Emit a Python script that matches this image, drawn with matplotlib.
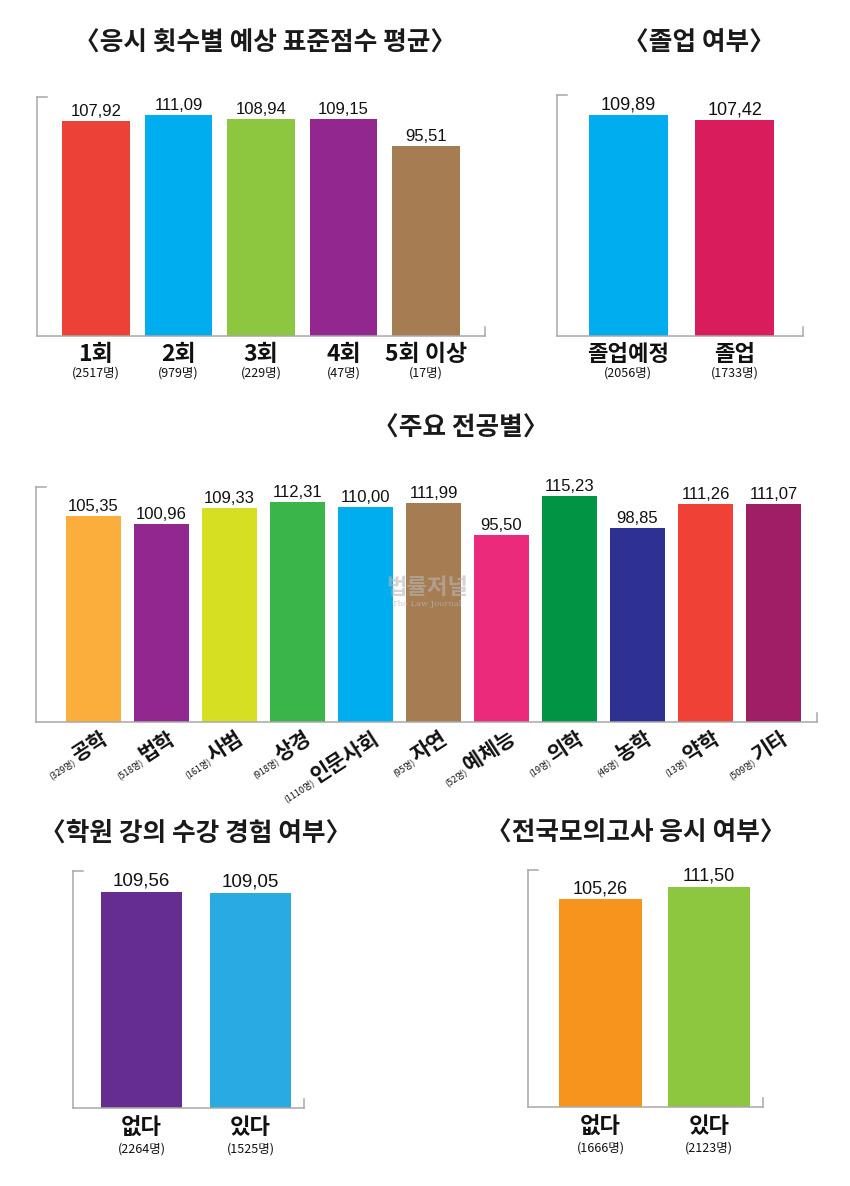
import numpy as np
import matplotlib.pyplot as plt

KR = ['Noto Sans CJK KR', 'DejaVu Sans']
NUM = ['Liberation Sans Narrow', 'Liberation Sans', 'DejaVu Sans']

W, H, DPI = 850, 1186, 100

# --- data ---
tries_labels = ['1회', '2회', '3회', '4회', '5회 이상']
tries_counts = ['2517명', '979명', '229명', '47명', '17명']
tries_scores = [107.92, 111.09, 108.94, 109.15, 95.51]
tries_colors = ['#EC4136', '#00AEEF', '#8DC63F', '#92278F', '#A67C52']

grad_labels = ['졸업예정', '졸업']
grad_counts = ['2056명', '1733명']
grad_scores = [109.89, 107.42]
grad_colors = ['#00AEEF', '#D91C5C']

major_labels = ['공학', '법학', '사범', '상경', '인문사회', '자연',
                '예체능', '의학', '농학', '약학', '기타']
major_counts = ['329명', '518명', '161명', '918명', '1110명', '95명',
                '52명', '19명', '46명', '13명', '509명']
major_scores = [105.35, 100.96, 109.33, 112.31, 110.00, 111.99,
                95.50, 115.23, 98.85, 111.26, 111.07]
major_colors = ['#FBAE3C', '#92278F', '#D7DF23', '#39B54A', '#00AEEF', '#A67C52',
                '#EC2A7C', '#009444', '#2E3192', '#EF4136', '#9E1F63']

academy_labels = ['없다', '있다']
academy_counts = ['2264명', '1525명']
academy_scores = [109.56, 109.05]
academy_colors = ['#662D91', '#29ABE2']

mock_labels = ['없다', '있다']
mock_counts = ['1666명', '2123명']
mock_scores = [105.26, 111.50]
mock_colors = ['#F7941D', '#8DC63F']


def px_axes(fig, left, top, right, bottom):
    return fig.add_axes([left / W, 1 - bottom / H, (right - left) / W, (bottom - top) / H])


def bar_panel(ax, values, colors, width, xlim, num_size):
    x = np.arange(len(values))
    ax.bar(x, values, width, color=colors, zorder=2)
    ax.set_xlim(xlim)
    ax.set_ylim(0, 120)
    ax.set_xticks([])
    ax.set_yticks([])
    for s in ['top', 'right']:
        ax.spines[s].set_visible(False)
    for s in ['left', 'bottom']:
        ax.spines[s].set_color('#a8a8a8')
        ax.spines[s].set_linewidth(1.1)
    # small bracket ends
    bb = ax.get_position()
    wpx, hpx = bb.width * W, bb.height * H
    ax.plot([0, 10 / wpx], [1, 1], transform=ax.transAxes, color='#a8a8a8',
            lw=1.1, clip_on=False)
    ax.plot([1, 1], [0, 9 / hpx], transform=ax.transAxes, color='#a8a8a8',
            lw=1.1, clip_on=False)
    for i, v in enumerate(values):
        ax.annotate(f'{v:.2f}'.replace('.', ','), (i, v), xytext=(0, 1.5),
                    textcoords='offset points', ha='center', va='bottom',
                    fontsize=num_size, family=NUM, color='#111111')


def cat_labels(ax, labels, counts, size, top=-5, gap=22, csize=9):
    for i, (lab, cnt) in enumerate(zip(labels, counts)):
        ax.annotate(lab, (i, 0), xytext=(0, top), textcoords='offset points',
                    ha='center', va='top', fontsize=size, fontweight='bold',
                    family=KR, color='#111111')
        ax.annotate(f'({cnt})', (i, 0), xytext=(0, -gap), textcoords='offset points',
                    ha='center', va='top', fontsize=csize, family=KR, color='#111111')


fig = plt.figure(figsize=(W / DPI, H / DPI), dpi=DPI)

title_kw = dict(ha='center', va='center', fontsize=18.5, fontweight='bold',
                family=KR, color='#1a1a1a')
fig.text(265 / W, 1 - 43 / H, '〈응시 횟수별 예상 표준점수 평균〉', **title_kw)
fig.text(699 / W, 1 - 43 / H, '〈졸업 여부〉', **title_kw)
fig.text(461 / W, 1 - 428 / H, '〈주요 전공별〉', **title_kw)
fig.text(196 / W, 1 - 833 / H, '〈학원 강의 수강 경험 여부〉', **title_kw)
fig.text(636 / W, 1 - 833 / H, '〈전국모의고사 응시 여부〉', **title_kw)

# panel 1
ax1 = px_axes(fig, 37, 97, 485, 336)
bar_panel(ax1, tries_scores, tries_colors, 0.82, (-0.715, 4.715), 12)
cat_labels(ax1, tries_labels, tries_counts, 16.5)

# panel 2
ax2 = px_axes(fig, 557, 95, 803, 336)
bar_panel(ax2, grad_scores, grad_colors, 0.74, (-0.67, 1.64), 13)
cat_labels(ax2, grad_labels, grad_counts, 16)

# panel 3
ax3 = px_axes(fig, 36, 487, 817, 722)
bar_panel(ax3, major_scores, major_colors, 0.81, (-0.846, 10.64), 12)

fig.canvas.draw()
rend = fig.canvas.get_renderer()
ang = np.radians(33)
dx, dy = 11, -14
for i, (lab, cnt) in enumerate(zip(major_labels, major_counts)):
    t = ax3.annotate(lab, (i, 0), xytext=(dx, dy), textcoords='offset points',
                     ha='right', va='baseline', fontsize=15, fontweight='bold',
                     family=KR, color='#111111', rotation=0, rotation_mode='anchor')
    w_pt = t.get_window_extent(rend).width * 72 / DPI + 1
    t.set_rotation(33)
    ax3.annotate(f'({cnt})', (i, 0),
                 xytext=(dx - w_pt * np.cos(ang), dy - w_pt * np.sin(ang)),
                 textcoords='offset points', ha='right', va='baseline',
                 fontsize=6.5, family=KR, color='#111111',
                 rotation=33, rotation_mode='anchor')

# watermark
fig.text(427 / W, 1 - 588 / H, '법률저널', ha='center', va='center', fontsize=16,
         fontweight='bold', family=KR, color='#b8b8b8', alpha=0.6, zorder=10)
fig.text(427 / W, 1 - 604 / H, 'The Law Journal', ha='center', va='center',
         fontsize=6, family='DejaVu Serif', color='#b8b8b8', alpha=0.7, zorder=10)

# panel 4
ax4 = px_axes(fig, 73, 871, 304, 1108)
bar_panel(ax4, academy_scores, academy_colors, 0.743, (-0.628, 1.49), 13.5)
cat_labels(ax4, academy_labels, academy_counts, 16, top=-6, gap=25)

# panel 5
ax5 = px_axes(fig, 528, 870, 763, 1107)
bar_panel(ax5, mock_scores, mock_colors, 0.76, (-0.67, 1.50), 13)
cat_labels(ax5, mock_labels, mock_counts, 16, top=-6, gap=25)

fig.savefig('out.png', dpi=DPI)
